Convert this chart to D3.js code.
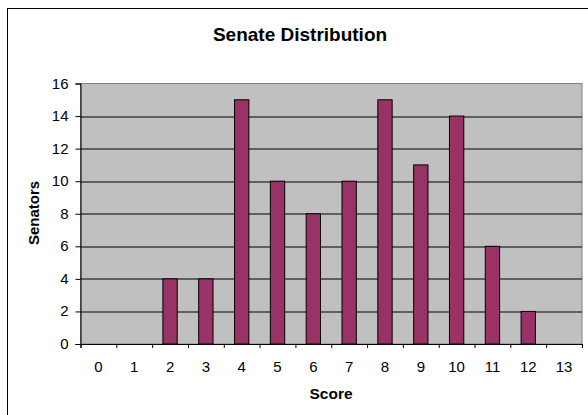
<!DOCTYPE html>
<html>
<head>
<meta charset="utf-8">
<script src="https://cdn.jsdelivr.net/npm/d3@7"></script>
<style>
  body { margin: 0; background: #fff; }
  text { font-family: "Liberation Sans", Arial, sans-serif; fill: #000; }
</style>
</head>
<body>
<div class="chart"></div>
<script>
const scores = [0, 1, 2, 3, 4, 5, 6, 7, 8, 9, 10, 11, 12, 13];
const senators = [0, 0, 4, 4, 15, 10, 8, 10, 15, 11, 14, 6, 2, 0];
const yTicks = [0, 2, 4, 6, 8, 10, 12, 14, 16];

const margin = { top: 83.5, right: 6, bottom: 71, left: 80.5 };
const W = 588, H = 415;
const width = W - margin.left - margin.right;
const height = H - margin.top - margin.bottom;

let root = d3.select(".chart").append("svg")
    .attr("width", W)
    .attr("height", H);

// outer chart frame (runs off the right and bottom of the picture)
root.append("rect")
    .attr("x", 7.5).attr("y", 8.5)
    .attr("width", 620).attr("height", 440)
    .attr("fill", "none").attr("stroke", "#000").attr("stroke-width", 1);

root.append("text")
    .attr("x", 300).attr("y", 41)
    .attr("text-anchor", "middle")
    .style("font-size", "19px").style("font-weight", "bold")
    .text("Senate Distribution");

let svg = root.append("g")
    .attr("transform", "translate(" + margin.left + "," + margin.top + ")");

var x = d3.scaleBand().domain(scores).range([0, width]).paddingInner(0).paddingOuter(0);
var y = d3.scaleLinear().domain([0, 16]).range([height, 0]);

svg.append("rect")
    .attr("width", width).attr("height", height)
    .attr("fill", "#c0c0c0").attr("stroke", "#808080");

svg.selectAll(".grid")
    .data(yTicks.filter(d => d > 0 && d < 16))
    .enter().append("line")
    .attr("class", "grid")
    .attr("x1", 0).attr("x2", width)
    .attr("y1", d => Math.round(y(d)) + 0.5).attr("y2", d => Math.round(y(d)) + 0.5)
    .attr("stroke", "#000").attr("stroke-width", 1);

// bars, gap width 150%
const bw = x.bandwidth() / 2.5;
svg.selectAll(".bar")
    .data(senators.map((v, i) => ({ s: scores[i], v: v })).filter(d => d.v > 0))
    .enter().append("rect")
    .attr("class", "bar")
    .attr("x", d => x(d.s) + (x.bandwidth() - bw) / 2)
    .attr("y", d => y(d.v))
    .attr("width", bw)
    .attr("height", d => height - y(d.v))
    .attr("fill", "#993366").attr("stroke", "#000").attr("stroke-width", 1);

let yAxis = svg.append("g")
    .call(d3.axisLeft(y).tickValues(yTicks).tickSize(5).tickPadding(7));
yAxis.select(".domain").attr("stroke", "#000");
yAxis.selectAll("text").style("font-size", "15px").attr("dy", "0.3em");

let xAxis = svg.append("g")
    .attr("transform", "translate(0," + height + ")")
    .call(d3.axisBottom(d3.scaleLinear().domain([0, 14]).range([0, width]))
        .tickValues(d3.range(0, 15)).tickSize(4).tickFormat(""));
xAxis.select(".domain").attr("stroke", "#000");

svg.selectAll(".xlabel")
    .data(scores)
    .enter().append("text")
    .attr("class", "xlabel")
    .attr("x", d => x(d) + x.bandwidth() / 2)
    .attr("y", height + 28)
    .attr("text-anchor", "middle")
    .style("font-size", "15px")
    .text(d => d);

root.append("text")
    .attr("x", 331).attr("y", 399)
    .attr("text-anchor", "middle")
    .style("font-size", "15.5px").style("font-weight", "bold")
    .text("Score");

root.append("text")
    .attr("transform", "translate(38.5,213) rotate(-90)")
    .attr("text-anchor", "middle")
    .style("font-size", "15px").style("font-weight", "bold")
    .text("Senators");
</script>
</body>
</html>
